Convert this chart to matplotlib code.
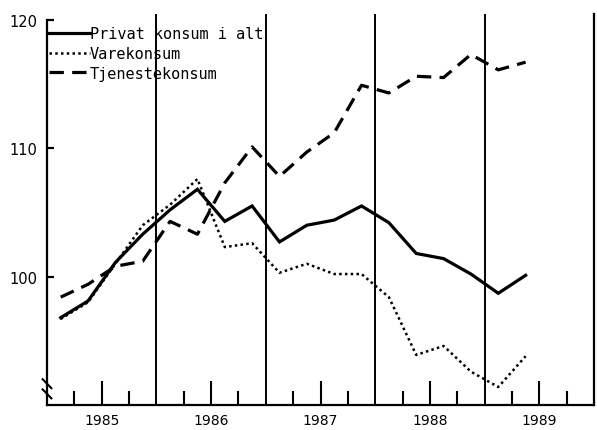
import matplotlib
matplotlib.use('Agg')
import matplotlib.pyplot as plt
import numpy as np

# Quarterly index, 1985Q1 - 1989Q2
years = [1985, 1986, 1987, 1988, 1989]
n_quarters = 18

privat = [96.8, 98.1, 101.1, 103.3, 105.2, 106.8, 104.3, 105.5, 102.7,
          104.0, 104.4, 105.5, 104.2, 101.8, 101.4, 100.2, 98.7, 100.1]
vare = [96.7, 98.0, 101.0, 104.0, 105.6, 107.6, 102.3, 102.6, 100.3,
        101.0, 100.2, 100.2, 98.4, 93.9, 94.6, 92.6, 91.4, 93.8]
tjeneste = [98.4, 99.4, 100.8, 101.2, 104.3, 103.3, 107.3, 110.1, 107.8,
            109.7, 111.2, 114.9, 114.3, 115.6, 115.5, 117.3, 116.1, 116.7]

labels = ['Privat konsum i alt', 'Varekonsum', 'Tjenestekonsum']
y_ticks = [100, 110, 120]

# points sit in the middle of each quarter
x = 1985 + (np.arange(n_quarters) + 0.5) / 4

fig = plt.figure(figsize=(5.97, 4.31), dpi=100)
ax = fig.add_axes([47 / 597, 25 / 431, 547 / 597, 391 / 431])

ax.plot(x, privat, color='black', lw=2.3, solid_joinstyle='miter', label=labels[0])
ax.plot(x, vare, color='black', lw=1.8, linestyle=(0, (1, 1.3)), label=labels[1])
ax.plot(x, tjeneste, color='black', lw=2.3, linestyle=(0, (4.5, 2.6)), label=labels[2])

for yr in years[1:]:
    ax.axvline(yr, color='black', lw=1.4)

ax.set_xlim(1985, 1990)
ax.set_ylim(90, 120.45)

ax.spines['top'].set_visible(False)
ax.spines['left'].set_bounds(90, 120)
for s in ['left', 'bottom', 'right']:
    ax.spines[s].set_linewidth(1.6)

ax.set_yticks(y_ticks)
ax.set_yticklabels([str(v) for v in y_ticks])
ax.tick_params(axis='y', direction='in', length=5, width=1.6, labelsize=10.5, pad=7)

ax.set_xticks([yr + 0.5 for yr in years])
ax.set_xticklabels([str(yr) for yr in years])
minor = []
for yr in years:
    minor += [yr + 0.25, yr + 0.75]
ax.set_xticks(minor, minor=True)
ax.tick_params(axis='x', which='major', direction='in', length=17, width=1.5, labelsize=10, pad=6)
ax.tick_params(axis='x', which='minor', direction='in', length=10, width=1.5)

# axis break marks
for dy in [0.0, 0.026]:
    ax.plot([-0.008, 0.008], [0.066 - dy, 0.043 - dy], transform=ax.transAxes,
            color='black', lw=1.5, clip_on=False)

leg = ax.legend(loc='upper left', bbox_to_anchor=(0.0, 0.972), frameon=False,
                prop={'family': 'DejaVu Sans Mono', 'size': 11},
                handlelength=2.7, handletextpad=0.0, labelspacing=0.3,
                borderaxespad=0.0, borderpad=0.1)

fig.savefig('out.png', dpi=100)
